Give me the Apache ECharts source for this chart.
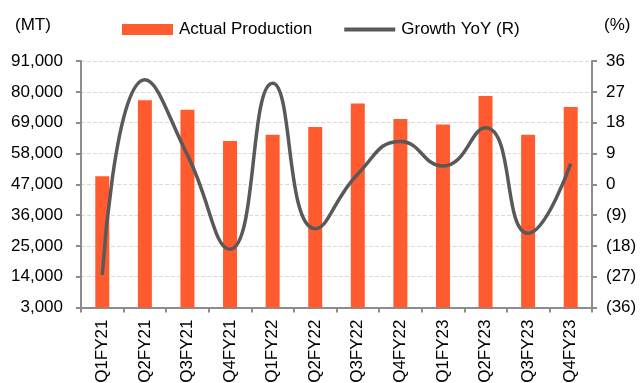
<!DOCTYPE html>
<html>
<head>
<meta charset="utf-8">
<script src="https://cdn.jsdelivr.net/npm/echarts@6/dist/echarts.min.js"></script>
<style>
  html, body { margin: 0; padding: 0; background: #fff; }
  #chart { width: 641px; height: 383px; }
</style>
</head>
<body>
<div id="chart"></div>
<script>
// 季度
const quarters = ['Q1FY21', 'Q2FY21', 'Q3FY21', 'Q4FY21', 'Q1FY22', 'Q2FY22',
  'Q3FY22', 'Q4FY22', 'Q1FY23', 'Q2FY23', 'Q3FY23', 'Q4FY23']
// 实际产量 (MT)
const production = [49900, 77000, 73600, 62400, 64700, 67400,
  75800, 70300, 68300, 78500, 64700, 74600]
// 同比增长 (%)
const growthYoY = [-26.5, 30.5, 8.5, -19, 29.5, -13,
  3, 12.5, 5.3, 16.5, -14.3, 6]
// 左轴刻度 3,000 ~ 91,000
const leftMin = 3000
const leftMax = 91000
const leftStep = 11000
// 右轴刻度 -36 ~ 36
const rightMin = -36
const rightMax = 36
const rightStep = 9

const font = '"Liberation Sans", Arial, sans-serif'
const fontSize = 17
const axisGray = '#8c8c8c'

const chart = echarts.init(document.getElementById('chart'))

const option = {
  animation: false,
  textStyle: { fontFamily: font },
  grid: { left: 81, right: 49, top: 61, bottom: 75.5, outerBoundsMode: 'none' },
  legend: {
    left: 117,
    top: 16,
    itemWidth: 51,
    itemHeight: 11,
    itemGap: 32,
    textStyle: { fontFamily: font, fontSize: fontSize, color: '#000', padding: [0, 0, 0, 1] },
    data: [
      { name: 'Actual Production', icon: 'rect' },
      {
        name: 'Growth YoY (R)',
        icon: 'path://M0,0H50V4H0Z',
        itemStyle: { color: '#595959' }
      }
    ]
  },
  graphic: [
    { type: 'text', left: 15, top: 17, style: { text: '(MT)', font: fontSize + 'px ' + font, fill: '#000' } },
    { type: 'text', left: 604, top: 17, style: { text: '(%)', font: fontSize + 'px ' + font, fill: '#000' } }
  ],
  xAxis: {
    type: 'category',
    data: quarters,
    axisLine: { onZero: false, lineStyle: { color: axisGray, width: 2 } },
    axisTick: { show: true, length: 5, lineStyle: { color: axisGray, width: 2 } },
    axisLabel: { rotate: 90, color: '#000', fontSize: fontSize, fontFamily: font, margin: 12 }
  },
  yAxis: [
    {
      type: 'value',
      min: leftMin,
      max: leftMax,
      interval: leftStep,
      axisLine: { show: true, lineStyle: { color: axisGray, width: 2 } },
      axisTick: { show: true, length: 5, lineStyle: { color: axisGray, width: 2 } },
      axisLabel: {
        color: '#000', fontSize: fontSize, fontFamily: font, margin: 18,
        formatter: (v) => v.toLocaleString('en-US')
      },
      splitLine: { show: true, lineStyle: { color: '#d9d9d9', type: 'dashed', width: 1 } }
    },
    {
      type: 'value',
      min: rightMin,
      max: rightMax,
      interval: rightStep,
      position: 'right',
      axisLine: { show: true, lineStyle: { color: axisGray, width: 2 } },
      axisTick: { show: true, length: 5, lineStyle: { color: axisGray, width: 2 } },
      axisLabel: {
        color: '#000', fontSize: fontSize, fontFamily: font, margin: 14,
        formatter: (v) => (v < 0 ? '(' + (-v) + ')' : String(v))
      },
      splitLine: { show: false }
    }
  ],
  series: [
    {
      name: 'Actual Production',
      type: 'bar',
      data: production,
      barWidth: 14,
      itemStyle: { color: '#FF5B2E' }
    },
    {
      name: 'Growth YoY (R)',
      type: 'line',
      yAxisIndex: 1,
      data: growthYoY,
      smooth: 0.5,
      symbol: 'none',
      lineStyle: { color: '#595959', width: 3.5 },
      itemStyle: { color: '#595959' }
    }
  ]
}

chart.setOption(option)
</script>
</body>
</html>
